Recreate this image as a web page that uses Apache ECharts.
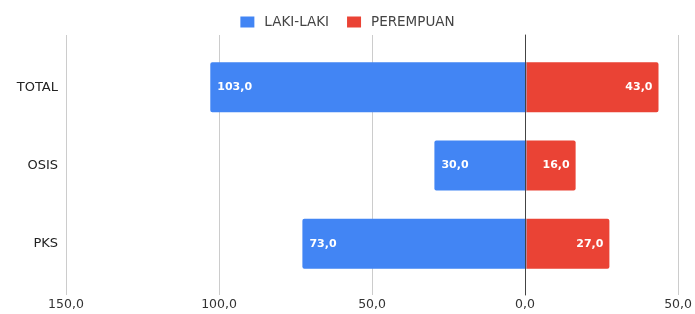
<!DOCTYPE html>
<html>
<head>
<meta charset="utf-8">
<script src="https://cdn.jsdelivr.net/npm/echarts@6/dist/echarts.min.js"></script>
<style>
  html, body { margin: 0; padding: 0; background: #fff; }
  #chart { width: 695px; height: 314px; }
</style>
</head>
<body>
<div id="chart"></div>
<script>
const categories = ['TOTAL', 'OSIS', 'PKS']
const lakiLaki = [103, 30, 73]
const perempuan = [43, 16, 27]
const tickMin = -150
const tickMax = 50
const tickStep = 50

const fmt = (v) => Math.abs(v).toFixed(1).replace('.', ',')
const fontFamily = '"DejaVu Sans", Arial, sans-serif'

const chart = echarts.init(document.getElementById('chart'))

chart.setOption({
  animation: false,
  textStyle: { fontFamily },
  legend: {
    top: 10,
    left: 'center',
    icon: 'rect',
    itemWidth: 14,
    itemHeight: 11,
    itemGap: 18,
    textStyle: { color: '#444', fontSize: 13.5, fontFamily, padding: [0, 0, 0, 5] },
    data: ['LAKI-LAKI', 'PEREMPUAN']
  },
  grid: [
    { left: 66, right: 15, top: 48, bottom: 31 },
    { left: 66, right: 15, top: 35, bottom: 19 }
  ],
  xAxis: [
    { gridIndex: 0, type: 'value', min: tickMin, max: tickMax, interval: tickStep, show: false },
    {
      gridIndex: 1,
      type: 'value',
      min: tickMin,
      max: tickMax,
      interval: tickStep,
      axisLine: { show: false },
      axisTick: { show: false },
      axisLabel: { color: '#333', fontSize: 12.5, margin: 3, formatter: fmt },
      splitLine: { show: true, lineStyle: { color: '#ccc', width: 1 } }
    }
  ],
  yAxis: [
    {
      gridIndex: 0,
      type: 'category',
      inverse: true,
      data: categories,
      axisLine: { show: false },
      axisTick: { show: false },
      axisLabel: { color: '#222', fontSize: 13, margin: 8 }
    },
    {
      gridIndex: 1,
      type: 'value',
      z: 5,
      axisLine: { show: true, onZero: true, lineStyle: { color: '#444', width: 1 } },
      axisTick: { show: false },
      axisLabel: { show: false },
      splitLine: { show: false }
    }
  ],
  series: [
    {
      name: 'LAKI-LAKI',
      type: 'bar',
      stack: 'total',
      xAxisIndex: 0,
      yAxisIndex: 0,
      barWidth: 50,
      data: lakiLaki.map(v => -v),
      itemStyle: { color: '#4285F4', borderRadius: [2, 0, 0, 2] },
      label: {
        show: true,
        position: 'insideLeft',
        distance: 7,
        color: '#fff',
        fontWeight: 'bold',
        fontSize: 11,
        formatter: (p) => fmt(p.value)
      }
    },
    {
      name: 'PEREMPUAN',
      type: 'bar',
      stack: 'total',
      xAxisIndex: 0,
      yAxisIndex: 0,
      barWidth: 50,
      data: perempuan,
      itemStyle: { color: '#EA4335', borderRadius: [0, 2, 2, 0] },
      label: {
        show: true,
        position: 'insideRight',
        distance: 6,
        color: '#fff',
        fontWeight: 'bold',
        fontSize: 11,
        formatter: (p) => fmt(p.value)
      }
    }
  ]
})

window.addEventListener('resize', () => chart.resize())
</script>
</body>
</html>
